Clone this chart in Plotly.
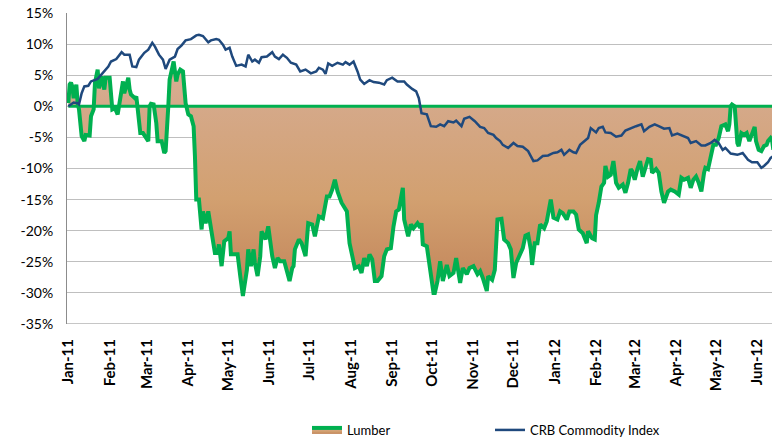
import pandas as pd
import plotly.graph_objects as go

START = "2011-01-01"

# Lumber: days since 2011-01-01 and % change
lumber_days = [0, 1, 2, 3, 4, 6, 7, 8, 10, 12, 13, 16, 17, 19, 20, 22, 23, 25, 27, 28, 31, 32, 33, 35, 37, 38,
               40, 41, 42, 45, 46, 47, 50, 51, 52, 54, 56, 57, 60, 61, 62, 64, 66, 67, 70, 72, 73, 75, 76, 78,
               79, 81, 82, 84, 86, 88, 90, 92, 94, 95, 96, 98, 100, 101, 103, 105, 107, 110, 112, 113, 115, 117,
               120, 121, 122, 125, 127, 129, 131, 134, 135, 137, 139, 140, 142, 144, 145, 148, 150, 153, 155,
               157, 159, 162, 164, 166, 168, 169, 170, 173, 175, 178, 180, 183, 185, 188, 191, 194, 196, 198,
               200, 202, 205, 209, 211, 214, 215, 218, 220, 222, 224, 226, 228, 230, 232, 235, 237, 239, 242,
               244, 246, 248, 251, 252, 255, 257, 259, 262, 264, 265, 266, 269, 271, 274, 275, 277, 279, 281,
               284, 286, 289, 291, 294, 296, 299, 301, 304, 307, 309, 311, 314, 315, 318, 320, 322, 325, 327,
               330, 332, 334, 336, 339, 341, 343, 345, 347, 348, 350, 352, 354, 357, 359, 361, 362, 364, 367,
               369, 371, 374, 376, 379, 381, 383, 386, 389, 390, 393, 395, 396, 397, 398, 400, 402, 403, 405,
               407, 409, 411, 413, 416, 418, 420, 422, 423, 425, 427, 429, 431, 433, 435, 437, 438, 441, 443,
               445, 447, 450, 452, 455, 458, 460, 462, 465, 467, 469, 471, 473, 475, 477, 478, 480, 482, 484,
               486, 488, 490, 493, 495, 496, 497, 498, 500, 502, 503, 505, 507, 509, 511, 513, 515, 516, 518,
               520, 522, 524, 525, 527, 528, 529]
lumber_pct = [0.5, 3.5, 3.8, 3.2, 1.3, 3.5, 0.5, -0.5, -4.8, -5.6, -4.6, -4.7, -1.6, -0.5, 3.8, 5.9, 2.9, 4.8,
              2.7, 4.6, 4.6, 2.1, -0.5, -0.3, -1.3, 0.0,
              3.5, 4.0, 2.1, 4.6, 2.7, 1.9, 1.3, 1.6, -0.3, -4.3, -4.3, -4.6, -5.6, 0.0, 0.4, 0.3, -2.7, -5.6,
              -5.6, -7.5, -7.2, 0.0, 4.3, 6.2,
              7.2, 4.0, 5.1, 5.9, 5.6, 0.5, -1.3, -1.6, -3.2, -8.0, -15.0, -15.0, -19.8, -16.9, -18.8, -16.9,
              -19.8, -23.6, -23.6, -22.2, -25.7, -21.7,
              -21.2, -20.1, -23.8, -23.8, -23.8, -27.3, -30.5, -26.3, -23.0, -25.7, -23.0, -25.2, -27.3, -24.1,
              -20.1, -21.4, -19.3, -24.1, -26.0,
              -24.4, -24.9, -24.9, -26.3, -28.1, -26.0, -25.7, -23.0, -21.4, -22.0, -24.1, -18.8, -19.0, -20.9,
              -17.7, -18.0, -14.5, -14.5, -13.4,
              -11.8, -13.7, -15.5, -16.9, -22.0, -25.7, -26.0, -25.7, -26.8, -24.4, -25.7, -23.8, -24.6, -28.1,
              -28.1, -27.3, -24.1, -23.0, -22.8,
              -19.3, -16.9, -16.6, -13.1, -18.2, -20.9, -19.0, -19.6, -18.8, -19.5, -18.8, -22.2, -22.5, -25.7,
              -30.0, -30.0, -28.1, -24.9, -28.1,
              -25.5, -27.3, -26.8, -24.4, -28.4, -26.0, -27.0, -26.0, -25.7, -27.0, -26.5, -27.6, -29.7, -27.3,
              -27.9, -26.3, -18.2, -18.1, -21.4,
              -22.0, -23.0, -27.6, -25.2, -23.8, -22.8, -20.8, -20.6, -23.0, -25.5, -22.0, -22.0, -19.0, -19.6,
              -18.5, -16.6, -15.0, -17.9, -18.2,
              -16.9, -17.2, -18.2, -16.9, -16.9, -17.4, -19.8, -20.4, -22.0, -20.1, -21.2, -21.4, -17.5, -16.6,
              -15.5, -12.9, -12.3, -9.6, -11.3,
              -11.0, -8.8, -12.3, -13.1, -12.6, -13.9, -12.3, -10.1, -10.4, -11.8, -10.1, -8.8, -11.3, -9.6,
              -8.5, -8.6, -10.7, -10.1, -10.7,
              -13.7, -15.5, -13.7, -13.4, -13.7, -14.2, -11.5, -11.8, -11.5, -13.1, -11.8, -11.3, -12.3, -13.7,
              -10.7, -9.9, -10.1, -8.0, -6.2,
              -6.2, -5.1, -3.2, -2.9, -4.0, -2.9, 0.0, 0.3, 0.0, -5.9, -6.4, -4.3, -4.6, -4.3, -5.6, -4.3, -3.3,
              -5.6, -7.0,
              -7.2, -6.4, -6.2, -5.6, -5.1, -5.4, -7.0]

# CRB Commodity Index: days since 2011-01-01 and % change
crb_days = [0, 2, 4, 7, 8, 10, 12, 15, 17, 22, 26, 30, 32, 36, 40, 42, 46, 48, 51, 53, 57, 60, 63, 65, 68, 71,
            73, 76, 80, 82, 85, 88, 92, 96, 98, 101, 105, 107, 111, 113, 116, 118, 121, 123, 126, 130, 133, 135,
            138, 140, 143, 145, 149, 153, 155, 158, 161, 164, 167, 171, 174, 178, 182, 186, 188, 191, 193, 195,
            198, 202, 206, 208, 211, 214, 217, 219, 222, 226, 229, 233, 237, 239, 243, 247, 252, 254, 258, 261,
            263, 265, 269, 272, 276, 279, 282, 285, 289, 291, 295, 297, 301, 305, 309, 312, 315, 319, 321, 324,
            326, 330, 334, 337, 341, 345, 347, 349, 352, 356, 360, 364, 367, 370, 372, 376, 379, 381, 384, 387,
            390, 392, 396, 398, 401, 403, 407, 411, 415, 418, 422, 426, 430, 432, 436, 440, 443, 447, 451, 453,
            457, 461, 465, 467, 471, 475, 478, 482, 485, 488, 491, 493, 497, 502, 506, 510, 513, 517, 520, 522,
            525, 527, 529]
crb_pct = [0.0, 0.3, 0.6, 0.5, 0.3, 2.1, 3.2, 3.3, 4.0, 4.4, 5.4, 6.4, 7.2, 7.6, 8.7, 8.3, 8.3, 6.4, 6.3, 7.5,
           8.6, 9.1, 10.2, 9.6, 8.3, 7.5,
           6.0, 7.5, 8.0, 9.2, 9.8, 10.6, 10.8, 11.4, 11.5, 11.3, 10.3, 10.6, 10.8, 10.7, 9.9, 9.1, 9.4, 8.0,
           6.5, 6.7, 6.4, 8.3,
           7.2, 7.5, 7.0, 7.9, 8.0, 8.7, 8.0, 7.6, 8.3, 7.8, 7.0, 6.7, 5.6, 5.9, 5.3, 5.6, 6.2, 5.9, 5.2, 6.9,
           6.5, 7.0, 6.7, 7.1, 6.7, 7.2, 5.6, 4.3, 3.6, 4.2, 3.9, 3.8, 3.5, 4.2, 4.6, 4.0, 4.0, 3.5, 2.8, 2.4,
           1.3, -1.1, -1.3, -3.2, -3.3, -2.9, -3.2, -2.4, -2.6, -2.3, -3.2, -2.0, -1.7, -2.4, -3.3, -3.5, -4.3,
           -4.6, -5.1, -5.6,
           -6.2, -6.7, -5.9, -6.4, -6.5, -7.2, -8.0, -8.8, -8.7, -8.0, -7.9, -7.5, -7.4, -7.0, -7.8, -7.0, -7.4,
           -7.5, -6.2, -5.6,
           -5.1, -3.5, -4.2, -3.5, -3.3, -4.2, -4.3, -4.9, -4.7, -3.9, -3.5, -3.2, -2.9, -4.0, -3.3, -2.9, -3.2,
           -3.6, -3.5, -4.7,
           -4.4, -4.8, -5.1, -5.9, -5.6, -6.3, -6.3, -5.9, -5.4, -5.9, -7.0, -6.7, -7.6, -7.8, -7.5, -8.6, -9.0,
           -9.0, -9.9, -9.6,
           -9.0, -8.3, -8.0]

month_ticks = ["2011-01-01", "2011-02-01", "2011-03-01", "2011-04-01", "2011-05-01", "2011-06-01",
               "2011-07-01", "2011-08-01", "2011-09-01", "2011-10-01", "2011-11-01", "2011-12-01",
               "2012-01-01", "2012-02-01", "2012-03-01", "2012-04-01", "2012-05-01", "2012-06-01"]
month_labels = ["Jan-11", "Feb-11", "Mar-11", "Apr-11", "May-11", "Jun-11", "Jul-11", "Aug-11", "Sep-11",
                "Oct-11", "Nov-11", "Dec-11", "Jan-12", "Feb-12", "Mar-12", "Apr-12", "May-12", "Jun-12"]
y_ticks = [-35, -30, -25, -20, -15, -10, -5, 0, 5, 10, 15]
y_labels = ["-35%", "-30%", "-25%", "-20%", "-15%", "-10%", "-5%", "0%", "5%", "10%", "15%"]

base = pd.Timestamp(START)
lumber_x = [base + pd.Timedelta(days=d) for d in lumber_days]
crb_x = [base + pd.Timedelta(days=d) for d in crb_days]

GREEN = "#00B050"
BLUE = "#1F497D"

fig = go.Figure()
fig.add_trace(go.Scatter(
    x=lumber_x, y=lumber_pct, name="Lumber", mode="lines",
    line=dict(color=GREEN, width=4),
    fill="tozeroy",
    fillgradient=dict(type="vertical", start=-30, stop=6,
                      colorscale=[[0, "#C2855A"], [0.42, "#D2A070"], [0.85, "#D5A98A"], [1, "#D8AE94"]]),
))
fig.add_trace(go.Scatter(
    x=[lumber_x[0], lumber_x[-1]], y=[0, 0], mode="lines", showlegend=False, hoverinfo="skip",
    line=dict(color=GREEN, width=3),
))
fig.add_trace(go.Scatter(
    x=crb_x, y=crb_pct, name="CRB Commodity Index", mode="lines",
    line=dict(color=BLUE, width=2.5),
))

fig.update_layout(
    width=773, height=441,
    margin=dict(l=67, r=1, t=13, b=117),
    paper_bgcolor="white", plot_bgcolor="white",
    font=dict(family="Lato, 'Open Sans', sans-serif", size=14, color="#000"),
    showlegend=True,
    legend=dict(orientation="h", x=0.6, xanchor="center", yref="container", y=0.025, yanchor="middle",
                font=dict(size=13), entrywidth=138, itemwidth=30),
)
fig.update_xaxes(
    type="date", range=["2010-12-31", "2012-06-12"], automargin=False,
    tickvals=month_ticks, ticktext=month_labels, tickangle=-90,
    tickfont=dict(size=15, family="Lato, sans-serif", weight="bold"),
    showgrid=False, showline=False, zeroline=False, ticks="", ticklabelstandoff=11,
)
fig.update_yaxes(
    range=[-35, 15], tickvals=y_ticks, ticktext=y_labels, automargin=False,
    showgrid=True, gridcolor="#BFBFBF", gridwidth=1,
    showline=True, linecolor="#8C8C8C", linewidth=1,
    zeroline=False, ticks="", ticklabelstandoff=10,
)
fig.add_shape(type="line", xref="paper", yref="y", x0=0, x1=1, y0=-35, y1=-35,
              line=dict(color="#8C8C8C", width=1), layer="above")

fig.write_html("out.html", config={"displayModeBar": False},
               post_script="document.body.style.margin='0';")
